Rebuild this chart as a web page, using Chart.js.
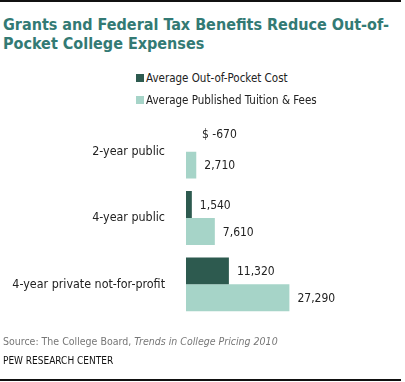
<!DOCTYPE html>
<html>
<head>
<meta charset="utf-8">
<script src="https://cdn.jsdelivr.net/npm/chart.js@4.4.1/dist/chart.umd.min.js"></script>
<style>
  body { margin: 0; background: #fff; font-family: "DejaVu Sans Condensed", "DejaVu Sans", sans-serif; }
  #wrap { position: relative; width: 405px; height: 382px; overflow: hidden; }
  .rule { position: absolute; left: 0; width: 401px; height: 2px; background: #111; }
  #title { position: absolute; left: 3px; top: 15px; font-weight: bold; font-size: 16px; line-height: 19px; color: #337a74; }
  .leg { position: absolute; left: 136px; font-size: 11.5px; color: #222; }
  .leg span { display: inline-block; width: 8px; height: 8px; margin-right: 2px; vertical-align: 0px; }
  #source { position: absolute; left: 3px; top: 335px; font-size: 10.5px; color: #777; }
  #pew { position: absolute; left: 3px; top: 355px; font-size: 10px; color: #111; }
  #chart { position: absolute; left: 0; top: 98px; }
</style>
</head>
<body>
<div id="wrap">
  <div class="rule" style="top:0"></div>
  <div id="title">Grants and Federal Tax Benefits Reduce Out-of-<br>Pocket College Expenses</div>
  <canvas id="chart" width="405" height="240"></canvas>
  <div class="leg" style="top:71px"><span style="background:#2d5a4f"></span>Average Out-of-Pocket Cost</div>
  <div class="leg" style="top:93px"><span style="background:#a6d4c8"></span>Average Published Tuition &amp; Fees</div>
  <div id="source">Source: The College Board, <i>Trends in College Pricing 2010</i></div>
  <div id="pew">PEW RESEARCH CENTER</div>
  <div class="rule" style="top:379px"></div>
</div>
<script>
// data
var categories = ["2-year public", "4-year public", "4-year private not-for-profit"];
var outOfPocket = [-670, 1540, 11320];
var tuitionFees = [2710, 7610, 27290];
var seriesNames = ["Average Out-of-Pocket Cost", "Average Published Tuition & Fees"];

// value labels next to each bar
var valueLabels = {
  id: "valueLabels",
  afterDatasetsDraw: function(chart) {
    var ctx = chart.ctx;
    ctx.save();
    ctx.font = "12px 'DejaVu Sans Condensed', 'DejaVu Sans', sans-serif";
    ctx.fillStyle = "#222";
    ctx.textBaseline = "middle";
    ctx.textAlign = "left";
    chart.data.datasets.forEach(function(ds, d) {
      var meta = chart.getDatasetMeta(d);
      meta.data.forEach(function(bar, i) {
        var v = ds.data[i];
        var end = Math.max(bar.x, bar.base);
        var text = v.toLocaleString("en-US");
        var x = end + 8;
        var y = bar.y + 1;
        if (v < 0) {
          // the negative one sits a bit higher and carries the $ sign
          text = "$ " + text;
          x = end + 16;
          y = bar.y - 3;
        }
        ctx.fillText(text, x, y);
      });
    });
    ctx.restore();
  }
};

var ctx = document.getElementById("chart").getContext("2d");

var myChart = new Chart(ctx, {
  type: "bar",
  data: {
    labels: categories,
    datasets: [
      {
        label: seriesNames[0],
        data: outOfPocket,
        backgroundColor: "#2d5a4f",
        categoryPercentage: 0.81,
        barPercentage: 1
      },
      {
        label: seriesNames[1],
        data: tuitionFees,
        backgroundColor: "#a6d4c8",
        categoryPercentage: 0.81,
        barPercentage: 1
      }
    ]
  },
  options: {
    indexAxis: "y",
    responsive: false,
    animation: false,
    layout: { padding: { top: 8, bottom: 7, left: 0, right: 0 } },
    plugins: {
      legend: { display: false },
      tooltip: { enabled: false }
    },
    scales: {
      x: {
        display: false,
        min: 0,
        max: 57800
      },
      y: {
        grid: { display: false },
        border: { display: false },
        ticks: {
          color: "#222",
          padding: 13,
          font: { family: "'DejaVu Sans Condensed', 'DejaVu Sans', sans-serif", size: 12.4 }
        },
        afterFit: function(scale) {
          scale.width = 186;
        }
      }
    }
  },
  plugins: [valueLabels]
});
</script>
</body>
</html>
